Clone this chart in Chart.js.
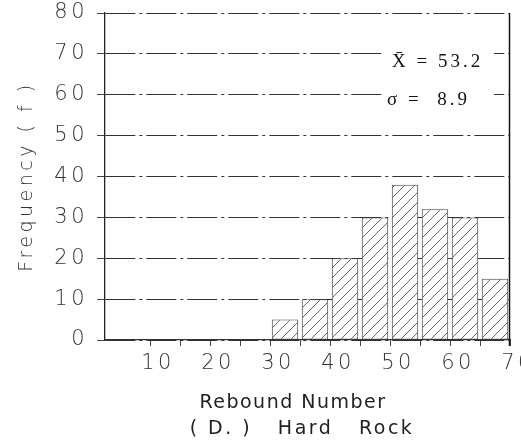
<!DOCTYPE html>
<html><head><meta charset="utf-8">
<script src="https://cdn.jsdelivr.net/npm/chart.js@4/dist/chart.umd.min.js"></script>
<style>
html,body{margin:0;padding:0;background:#fff;overflow:hidden;}
#wrap{position:relative;width:560px;height:447px;}
</style></head><body>
<div id="wrap"><canvas id="c" width="560" height="447"></canvas></div>
<script>
// ---- data ----
const binStarts   = [30, 35, 40, 45, 50, 55, 60, 65];
const binWidth    = 5;
const frequencies = [5, 10, 20, 30, 38, 32, 30, 15];
const xTickValues = [10, 15, 20, 25, 30, 35, 40, 45, 50, 55, 60, 65, 70];
const xLabelValues = [10, 20, 30, 40, 50, 60, 70];
const yTickValues = [0, 10, 20, 30, 40, 50, 60, 70, 80];
const xTitle  = 'Rebound Number';
const caption = '( D. )   Hard   Rock';
const yTitle  = 'Frequency ( f )';
const statLabels = ['X\u0304 = 53.2', '\u03C3 =  8.9'];

// ---- hatch pattern ----
function hatch() {
  const s = 10, c = document.createElement('canvas');
  c.width = s; c.height = s;
  const g = c.getContext('2d');
  g.fillStyle = '#fff'; g.fillRect(0, 0, s, s);
  g.strokeStyle = '#666'; g.lineWidth = 1;
  g.beginPath();
  g.moveTo(0, s); g.lineTo(s, 0);
  g.moveTo(-2, 2); g.lineTo(2, -2);
  g.moveTo(s - 2, s + 2); g.lineTo(s + 2, s - 2);
  g.stroke();
  return g.createPattern(c, 'repeat');
}

const tickFont = {family: 'DejaVu Sans', size: 21, weight: 200};

const textPlugin = {
  id: 'texts',
  beforeDraw(chart) { chart.ctx.letterSpacing = '3.5px'; },
  afterDraw(chart) {
    const {ctx, chartArea: a, scales} = chart;
    ctx.save();
    ctx.letterSpacing = '0px';
    // right frame line at the last x tick
    const xr = Math.round(scales.x.getPixelForValue(xTickValues[xTickValues.length - 1])) - 0.5;
    ctx.strokeStyle = '#111';
    ctx.lineWidth = 1.5;
    ctx.setLineDash([]);
    ctx.beginPath();
    ctx.moveTo(xr, a.top);
    ctx.lineTo(xr, a.bottom + 6);
    ctx.stroke();
    // statistics box (interrupts grid lines)
    ctx.font = '19px "Liberation Serif"';
    const sx = a.right - 118;
    const rows = [{y: 67, x: sx}, {y: 105, x: sx - 5}];
    rows.forEach(r => {
      ctx.fillStyle = '#fff';
      ctx.fillRect(a.right - 128, r.y - 26, 112, 34);
    });
    ctx.fillStyle = '#111';
    ctx.textBaseline = 'alphabetic';
    ctx.textAlign = 'left';
    ctx.letterSpacing = '3px';
    rows.forEach((r, i) => ctx.fillText(statLabels[i], r.x, r.y));
    // bottom captions
    ctx.font = '19px "DejaVu Sans"';
    ctx.fillStyle = '#222';
    ctx.textAlign = 'center';
    ctx.letterSpacing = '1.5px';
    ctx.fillText(xTitle, 293, 408);
    ctx.letterSpacing = '2.5px';
    ctx.fillText(caption, 302, 434);
    ctx.restore();
    ctx.letterSpacing = '0px';
  }
};

new Chart(document.getElementById('c'), {
  type: 'bar',
  data: {
    datasets: [{
      data: binStarts.map((s, i) => ({x: s + binWidth / 2, y: frequencies[i]})),
      backgroundColor: hatch(),
      borderColor: '#444',
      borderWidth: 1,
      borderSkipped: false,
      barPercentage: 1,
      categoryPercentage: 0.88
    }]
  },
  options: {
    responsive: false,
    animation: false,
    events: [],
    layout: {padding: {left: 0, right: 50, top: 13, bottom: 0}},
    plugins: {legend: {display: false}, tooltip: {enabled: false}},
    scales: {
      x: {
        type: 'linear',
        offset: false,
        min: 2.5, max: 70,
        afterBuildTicks: s => { s.ticks = xTickValues.map(v => ({value: v})); },
        afterFit: s => { s.height = 107; s.paddingLeft = 0; s.paddingRight = 0; },
        ticks: {
          autoSkip: false, maxRotation: 0,
          callback: v => xLabelValues.includes(v) ? String(v) : '',
          labelOffset: 8, padding: 5,
          font: tickFont, color: '#333'
        },
        grid: {
          offset: false,
          drawOnChartArea: false,
          tickColor: '#444', tickLength: 6
        },
        border: {display: true, color: '#333', width: 1.2}
      },
      y: {
        min: 0, max: 80,
        z: 1,
        afterBuildTicks: s => { s.ticks = yTickValues.map(v => ({value: v})); },
        afterFit: s => { s.width = 105; s.paddingTop = 0; s.paddingBottom = 0; },
        ticks: {padding: 9, font: tickFont, color: '#333'},
        grid: {color: '#333', lineWidth: 1, tickLength: 8, tickBorderDash: [], tickColor: '#444'},
        border: {display: true, color: '#222', width: 1.3, dash: [30, 4, 3, 4]},
        title: {
          display: true, text: yTitle,
          font: {family: 'DejaVu Sans', size: 19, weight: 200},
          color: '#333', padding: {top: 16, bottom: 0}
        }
      }
    }
  },
  plugins: [textPlugin]
});
</script>
</body></html>
